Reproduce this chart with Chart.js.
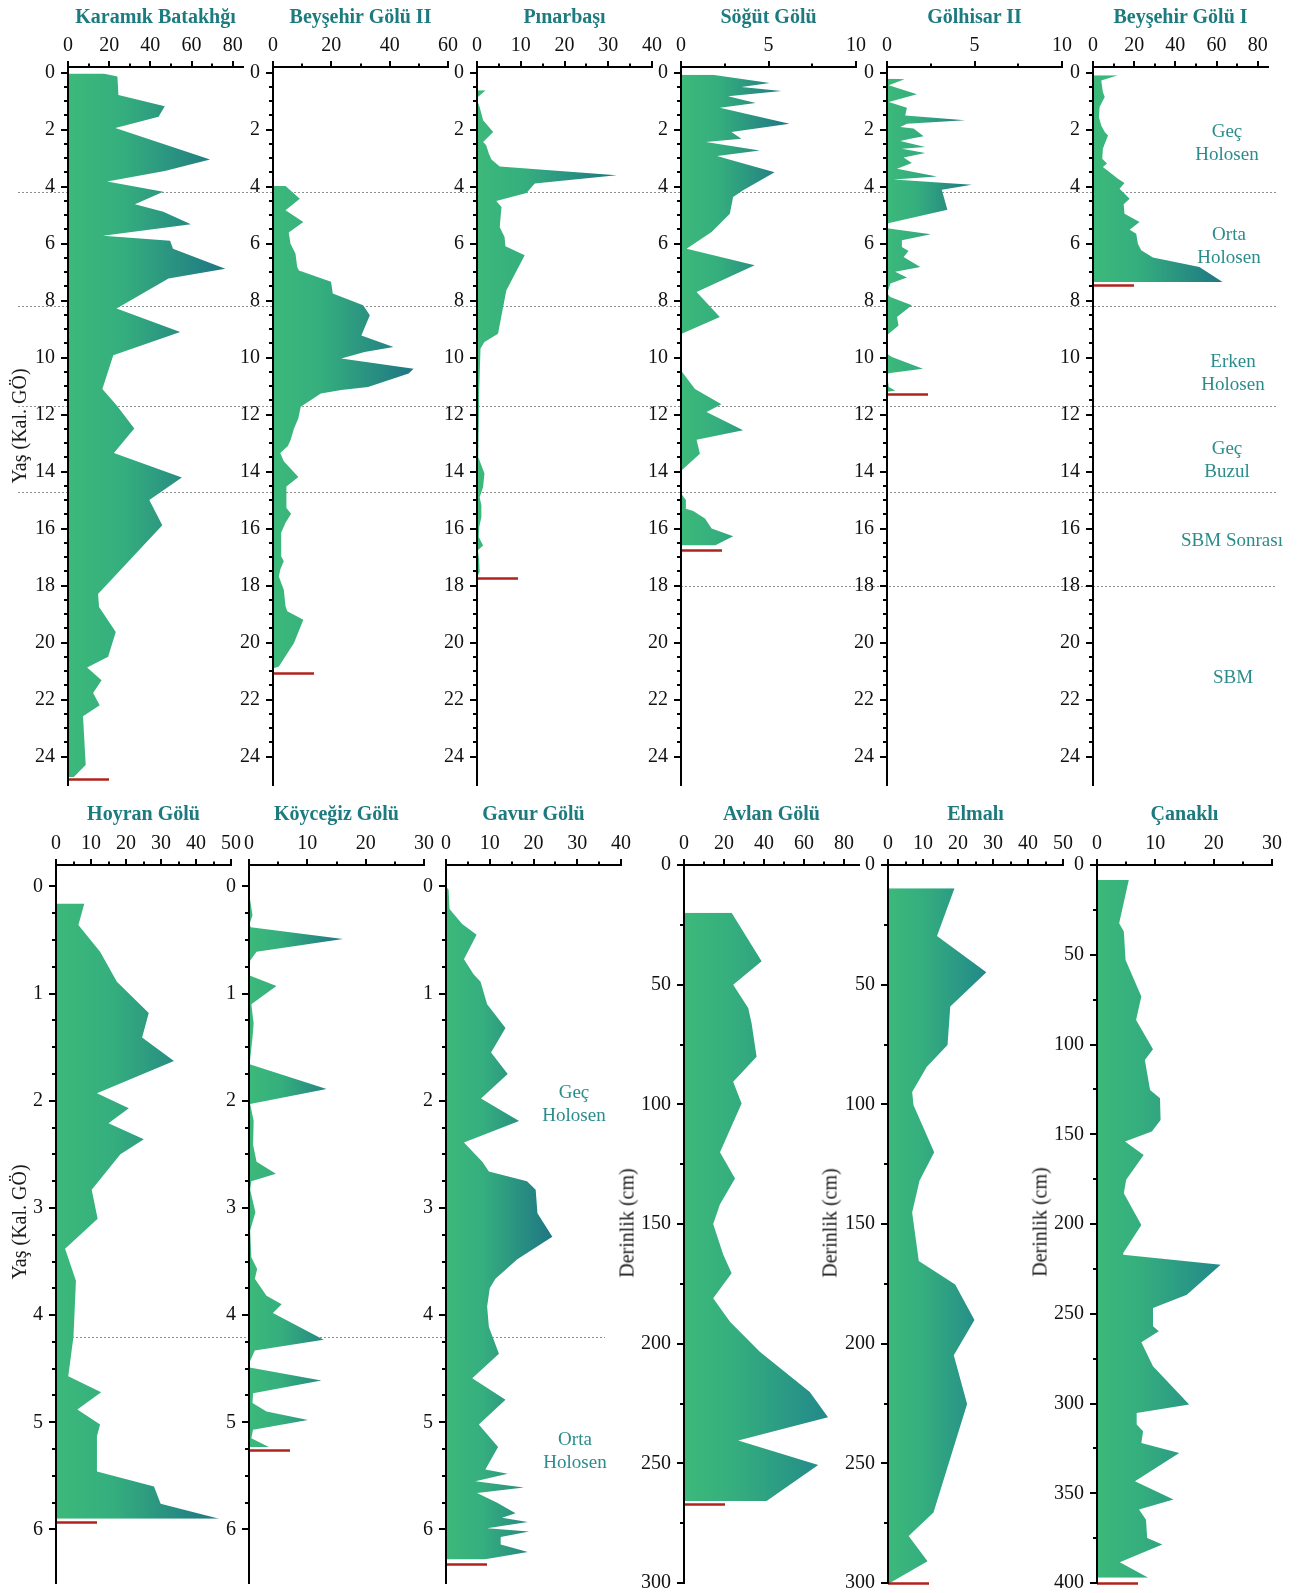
<!DOCTYPE html>
<html>
<head>
<meta charset="utf-8">
<script src="https://cdn.jsdelivr.net/npm/chart.js@4.4.1/dist/chart.umd.min.js"></script>
<style>
  html, body { margin: 0; padding: 0; background: #fff; overflow: hidden; }
  #page { position: relative; width: 1301px; height: 1593px; overflow: hidden; }
  canvas { position: absolute; }
  .txt { position: absolute; transform: translate(-50%, -50%); white-space: nowrap;
         font-family: 'Liberation Serif', 'Times New Roman', serif; }
  .title { font-weight: bold; font-size: 20px; color: #1d7b7f; }
  .period { font-size: 19px; color: #2b8c8c; text-align: center; line-height: 23px; }
  .ytitle { font-size: 20px; color: #1a1a1a; transform: translate(-50%, -50%) rotate(-90deg); }
</style>
</head>
<body>
<div id="page">
  <canvas id="guides" width="1301" height="1593" style="left:0;top:0;z-index:0"></canvas>
</div>
<script>
// ---- Site names ----
const siteNames = ['Karamık Batakhğı', 'Beyşehir Gölü II', 'Pınarbaşı', 'Söğüt Gölü', 'Gölhisar II', 'Beyşehir Gölü I',
                   'Hoyran Gölü', 'Köyceğiz Gölü', 'Gavur Gölü', 'Avlan Gölü', 'Elmalı', 'Çanaklı'];

// ---- Records: age (ka cal BP) or depth (cm) and percentage ----
const karamikAge = [0.03, 0.13, 0.78, 1.18, 1.55, 1.94, 3.05, 3.45, 3.82, 4.18, 4.62, 4.88, 5.32, 5.72, 5.9, 6.18, 6.88, 7.22, 8.28, 9.1, 9.92, 11.1, 11.67, 12.49, 13.35, 14.21, 15.0, 15.88, 18.3, 18.75, 19.63, 20.5, 20.88, 21.32, 21.77, 22.2, 22.59, 24.3, 24.72];
const karamikVal = [17, 24, 24.5, 47, 44, 23, 69, 47, 19, 46.3, 32.5, 46.3, 59.7, 17, 49.6, 51, 76.4, 48.8, 23.6, 54.5, 22, 16.7, 23.6, 32.2, 22.3, 55.3, 39.5, 45.8, 14.6, 15.1, 23.2, 19.5, 9.3, 16.3, 12.2, 15.4, 7.3, 8.6, 2.8];

const beysehir2Age = [3.98, 4.42, 4.83, 5.24, 5.61, 6.0, 6.35, 6.82, 6.94, 7.34, 7.75, 8.16, 8.51, 9.22, 9.63, 9.8, 10.03, 10.39, 10.56, 11.03, 11.14, 11.26, 11.61, 11.72, 12.13, 12.49, 12.9, 13.1, 13.35, 13.64, 14.19, 14.52, 15.28, 15.48, 15.8, 16.15, 16.97, 17.15, 17.44, 17.68, 18.15, 18.73, 18.9, 19.2, 20.02, 20.84, 20.9];
const beysehir2Val = [4.3, 9.2, 4.3, 10.4, 5.4, 6.0, 7.7, 8.3, 8.9, 19.9, 20.5, 30.9, 33.2, 30.3, 41.3, 31.4, 23.4, 48.2, 46.5, 32.6, 23.4, 16.4, 11.2, 9.5, 8.7, 7.2, 6.0, 5.1, 2.5, 3.7, 8.7, 4.6, 4.6, 6.2, 4.3, 2.8, 2.8, 3.7, 2.5, 2.0, 3.7, 4.3, 4.9, 10.4, 7.2, 2.0, 0.2];

const pinarbasiAge = [0.62, 0.85, 0.97, 1.2, 1.67, 2.08, 2.43, 2.55, 2.84, 3.05, 3.29, 3.6, 3.89, 4.22, 4.5, 4.71, 5.06, 5.42, 5.77, 6.09, 6.41, 7.64, 9.16, 9.45, 9.68, 11.15, 13.5, 13.78, 14.07, 14.54, 14.9, 15.18, 15.59, 15.95, 16.3, 16.59, 16.76, 17.11, 17.52, 17.64];
const pinarbasiVal = [2.0, 0.2, 0, 0.6, 1.4, 3.7, 1.4, 2.1, 2.7, 3.3, 5.2, 31.9, 13.2, 11.3, 4.4, 5.6, 5.4, 5.2, 6.3, 6.5, 10.9, 6.7, 4.8, 1.7, 0.8, 0.5, 0.3, 1.0, 1.7, 1.4, 0.6, 1.0, 1.0, 0.5, 0.4, 1.4, 0.2, 0.5, 0.6, 0.2];

const sogutAge = [0.07, 0.36, 0.5, 0.64, 0.83, 1.06, 1.23, 1.79, 2.08, 2.32, 2.43, 2.73, 2.92, 3.02, 3.49, 4.13, 4.36, 4.95, 5.59, 5.94, 6.18, 6.76, 7.7, 8.57, 9.16, 10.45, 11.1, 11.64, 11.91, 12.55, 12.88, 13.37, 13.95, 14.77, 15.0, 15.3, 15.38, 15.65, 16.0, 16.27, 16.59];
const sogutVal = [1.8, 5.07, 3.45, 5.74, 2.69, 4.27, 2.22, 6.2, 2.88, 3.45, 1.42, 4.5, 2.07, 2.6, 5.35, 3.55, 2.98, 2.79, 1.75, 0.89, 0.32, 4.21, 0.89, 2.22, 0.04, 0, 0.8, 2.31, 1.46, 3.55, 0.89, 1.08, 0.04, 0, 0.28, 0.28, 0.7, 1.37, 1.75, 2.98, 1.94];

const golhisarAge = [0.21, 0.23, 0.44, 0.76, 1.03, 1.23, 1.5, 1.67, 1.79, 1.91, 1.96, 2.23, 2.32, 2.4, 2.61, 2.67, 2.82, 2.98, 3.17, 3.37, 3.64, 3.75, 3.93, 4.11, 4.81, 5.27, 5.3, 5.45, 5.47, 5.67, 5.88, 6.12, 6.26, 6.47, 6.82, 6.99, 7.19, 7.4, 7.58, 7.75, 7.87, 8.16, 8.57, 8.87, 9.16, 9.2, 9.86, 9.98, 10.39, 10.54, 10.57, 11.03, 11.15, 11.2];
const golhisarVal = [0.3, 1.0, 0.1, 1.71, 0.1, 1.14, 1.04, 4.46, 1.14, 0.76, 1.52, 2.09, 1.33, 0.76, 2.18, 0.85, 2.18, 0.95, 1.42, 0.57, 2.85, 0.38, 4.84, 3.13, 3.45, 0.19, 0, 0, 0.1, 2.5, 0.85, 0.85, 1.23, 0.95, 1.9, 0.47, 1.14, 0.19, 0.1, 0, 0.19, 1.42, 0.57, 0.66, 0.1, 0, 0, 0.28, 2.05, 0.19, 0, 0.1, 0.47, 0.1];

const beysehir1Age = [0.09, 0.27, 0.68, 0.85, 1.2, 1.56, 1.85, 2.08, 2.2, 2.49, 2.67, 3.02, 3.19, 3.31, 3.49, 3.72, 3.87, 4.07, 4.42, 4.62, 4.95, 5.24, 5.51, 5.65, 6.0, 6.23, 6.49, 6.82, 7.35];
const beysehir1Val = [12.1, 4.0, 4.8, 5.7, 3.2, 2.9, 4.0, 5.7, 7.3, 5.7, 4.8, 4.5, 6.8, 4.8, 8.1, 12.1, 15.3, 12.9, 17.8, 14.9, 15.3, 22.6, 17.8, 21.0, 21.8, 23.4, 29.1, 51.7, 63.0];

const hoyranAge = [0.16, 0.36, 0.61, 0.89, 1.18, 1.41, 1.63, 1.93, 2.07, 2.21, 2.36, 2.5, 2.83, 3.1, 3.38, 3.68, 4.2, 4.57, 4.72, 4.88, 5.02, 5.13, 5.46, 5.6, 5.76, 5.9];
const hoyranVal = [8.1, 6.4, 12.6, 17.4, 26.5, 24.6, 33.7, 11.7, 20.8, 15.0, 25.1, 18.4, 10.2, 11.9, 2.6, 5.7, 5.0, 3.5, 12.9, 6.1, 12.6, 11.7, 11.7, 28.0, 29.9, 46.6];

const koycegizAge = [0.02, 0.13, 0.27, 0.35, 0.38, 0.49, 0.61, 0.69, 0.83, 0.93, 1.1, 1.28, 1.41, 1.66, 1.89, 2.03, 2.19, 2.41, 2.57, 2.68, 2.75, 2.83, 3.04, 3.21, 3.46, 3.57, 3.66, 3.82, 3.9, 3.98, 4.23, 4.33, 4.44, 4.49, 4.61, 4.73, 4.82, 4.9, 4.98, 5.07, 5.15, 5.23];
const koycegizVal = [0, 0.2, 0.6, 0.1, 0.3, 16.1, 1.3, 0.2, 0.1, 4.7, 0.4, 0.8, 0.6, 0.1, 13.3, 0.2, 0.8, 0.7, 1.3, 4.6, 0.4, 0.2, 1.1, 0.2, 0.4, 1.4, 1.0, 3.0, 5.6, 4.1, 12.8, 1.0, 0.1, 0.1, 12.4, 0.7, 0.6, 3.0, 10.1, 0.7, 0.4, 3.4];

const gavurAge = [0, 0.03, 0.21, 0.35, 0.45, 0.68, 0.82, 0.89, 1.1, 1.32, 1.55, 1.75, 1.98, 2.19, 2.39, 2.57, 2.66, 2.75, 2.83, 3.05, 3.27, 3.48, 3.66, 3.75, 3.92, 4.11, 4.23, 4.36, 4.59, 4.79, 5.02, 5.23, 5.44, 5.48, 5.55, 5.61, 5.66, 5.75, 5.85, 5.89, 5.93, 5.99, 6.02, 6.07, 6.14, 6.21, 6.28];
const gavurVal = [0, 0.6, 0.8, 3.7, 7.0, 4.1, 6.3, 7.9, 9.4, 13.6, 10.3, 14.1, 8.0, 16.7, 4.1, 8.3, 9.8, 18.5, 20.5, 20.9, 24.3, 16.3, 11.3, 10.0, 9.4, 9.8, 10.9, 12.1, 6.0, 13.6, 7.5, 11.9, 9.0, 14.1, 6.7, 17.8, 7.1, 11.7, 15.9, 12.8, 18.7, 9.4, 19.0, 12.5, 12.5, 18.7, 8.6];

const avlanDepth = [19.9, 40.2, 50.0, 59.8, 66.1, 80.1, 90.6, 99.7, 112.3, 120, 131, 141.7, 150, 162.7, 170.6, 181, 190.8, 203.4, 220.2, 230.7, 240.5, 250.7, 265.7];
const avlanVal = [23.8, 38.8, 24.6, 32.1, 33.8, 36.3, 24.6, 28.8, 22.1, 18.0, 25.5, 18.0, 14.6, 19.6, 23.8, 14.6, 23.0, 37.9, 62.9, 72.0, 27.1, 67.1, 41.3];

const elmaliDepth = [9.7, 29.7, 44.8, 59.1, 75.2, 84.3, 94.8, 100.4, 120.0, 131.9, 145.2, 165.5, 175.3, 190.1, 204.8, 225.2, 270.5, 280.4, 290.9, 300];
const elmaliVal = [19.0, 14.0, 28.1, 17.8, 17.0, 11.1, 6.9, 7.3, 13.2, 9.0, 6.9, 8.8, 19.2, 24.7, 18.8, 22.6, 13.0, 5.9, 11.3, 0.5];

const canakliDepth = [8.4, 32.5, 37.1, 52.9, 73.3, 86.3, 102.6, 108.6, 125.3, 129.9, 142, 148.5, 154.1, 161.5, 175.4, 182.8, 200.5, 216.2, 217.2, 222.7, 239.4, 246.8, 257, 259.8, 265.9, 279.3, 300.6, 305.3, 311.7, 315.5, 322, 327.6, 343.3, 353.5, 359.1, 364.7, 374.9, 378.6, 388.4, 397.1];
const canakliVal = [5.45, 3.8, 4.6, 4.9, 7.6, 6.7, 9.6, 8.2, 9.1, 10.8, 10.9, 9.4, 4.8, 8.0, 5.0, 4.6, 7.6, 4.5, 4.5, 21.2, 15.4, 9.6, 9.6, 10.6, 7.6, 9.6, 15.8, 6.8, 6.8, 7.9, 7.6, 14.1, 6.5, 13.1, 7.2, 8.4, 8.6, 11.2, 3.9, 8.8];

// ---- Base of each record (red marker) ----
const recordBase = [24.8, 21.07, 17.72, 16.74, 11.26, 7.46, 5.93, 5.26, 6.32, 267, 300, 400];

// ---- Axis tick labels ----
const xLabels85 = [0, 20, 40, 60, 80];
const xLabels60 = [0, 20, 40, 60];
const xLabels40 = [0, 10, 20, 30, 40];
const xLabels10 = [0, 5, 10];
const xLabels50 = [0, 10, 20, 30, 40, 50];
const xLabels30 = [0, 10, 20, 30];
const ageLabels25 = [0, 2, 4, 6, 8, 10, 12, 14, 16, 18, 20, 22, 24];
const ageLabels6 = [0, 1, 2, 3, 4, 5, 6];
const depthLabels300 = [0, 50, 100, 150, 200, 250, 300];
const depthLabels400 = [0, 50, 100, 150, 200, 250, 300, 350, 400];

// ---- Chronozones ----
const zoneBoundsTop = [4.2, 8.2, 11.7, 14.7, 18.0];
const zoneBoundsBottom = [4.2];

// ---------------------------------------------------------------
const FONT = "'Liberation Serif', 'Times New Roman', serif";
const page = document.getElementById('page');
const PLOT_W = 175, Y_W = 60, X_H = 40, PAD_R = 20, PAD_B = 20;

function ticksBetween(labels, step) {
  const out = [];
  const lo = labels[0], hi = labels[labels.length - 1];
  for (let v = lo; v <= hi + 1e-9; v += step) out.push(Math.round(v * 1000) / 1000);
  return out;
}

const rowTop = { top: 67, bottom: 785 };
const rowBot = { top: 865, bottom: 1583 };

const ageTop = { min: -0.2, max: 25, labels: ageLabels25, step: 0.5 };
const ageBot = { min: -0.2, max: 6.5, labels: ageLabels6, step: 0.25 };
const dep300 = { min: 0, max: 300, labels: depthLabels300, step: 25 };
const dep400 = { min: 0, max: 400, labels: depthLabels400, step: 25 };

const DARK = '#1e7684', MID = '#22898a';

const panels = [
  { ys: karamikAge, xs: karamikVal, row: rowTop, left: 68, xMax: 85, xLab: xLabels85, xStep: 10, yAx: ageTop, end: DARK },
  { ys: beysehir2Age, xs: beysehir2Val, row: rowTop, left: 273, xMax: 60, xLab: xLabels60, xStep: 10, yAx: ageTop, end: DARK },
  { ys: pinarbasiAge, xs: pinarbasiVal, row: rowTop, left: 477, xMax: 40, xLab: xLabels40, xStep: 5, yAx: ageTop, end: DARK },
  { ys: sogutAge, xs: sogutVal, row: rowTop, left: 681, xMax: 10, xLab: xLabels10, xStep: 2.5, yAx: ageTop, end: DARK },
  { ys: golhisarAge, xs: golhisarVal, row: rowTop, left: 887, xMax: 10, xLab: xLabels10, xStep: 2.5, yAx: ageTop, end: DARK },
  { ys: beysehir1Age, xs: beysehir1Val, row: rowTop, left: 1093, xMax: 85, xLab: xLabels85, xStep: 10, yAx: ageTop, end: DARK },
  { ys: hoyranAge, xs: hoyranVal, row: rowBot, left: 56, xMax: 50, xLab: xLabels50, xStep: 5, yAx: ageBot, end: DARK },
  { ys: koycegizAge, xs: koycegizVal, row: rowBot, left: 249, xMax: 30, xLab: xLabels30, xStep: 5, yAx: ageBot, end: DARK },
  { ys: gavurAge, xs: gavurVal, row: rowBot, left: 446, xMax: 40, xLab: xLabels40, xStep: 5, yAx: ageBot, end: DARK },
  { ys: avlanDepth, xs: avlanVal, row: rowBot, left: 684, xMax: 87.5, xLab: xLabels85, xStep: 10, yAx: dep300, end: MID },
  { ys: elmaliDepth, xs: elmaliVal, row: rowBot, left: 888, xMax: 50, xLab: xLabels50, xStep: 5, yAx: dep300, end: MID },
  { ys: canakliDepth, xs: canakliVal, row: rowBot, left: 1097, xMax: 30, xLab: xLabels30, xStep: 5, yAx: dep400, end: MID }
];

// Short ticks for minor values, long ones for labelled values
const tickMarks = {
  id: 'tickMarks',
  afterDraw(chart) {
    const { ctx } = chart;
    const xs = chart.scales.x, ys = chart.scales.y;
    ctx.save();
    ctx.strokeStyle = '#000';
    ctx.lineWidth = 2;
    ctx.beginPath();
    xs.ticks.forEach(t => {
      const px = Math.round(xs.getPixelForValue(t.value));
      const len = t.label ? 6 : 3.5;
      ctx.moveTo(px, xs.bottom);
      ctx.lineTo(px, xs.bottom - len);
    });
    ys.ticks.forEach(t => {
      const py = Math.round(ys.getPixelForValue(t.value));
      const len = t.label ? 7 : 4;
      ctx.moveTo(ys.right, py);
      ctx.lineTo(ys.right - len, py);
    });
    ctx.stroke();
    ctx.restore();
  }
};

function baseMarker(base) {
  return {
    id: 'baseMarker',
    afterDatasetsDraw(chart) {
      const { ctx } = chart;
      const xs = chart.scales.x, ys = chart.scales.y;
      const y = Math.round(ys.getPixelForValue(base)) + 0.5;
      const x0 = xs.getPixelForValue(0);
      ctx.save();
      ctx.strokeStyle = '#b0231d';
      ctx.lineWidth = 2.5;
      ctx.beginPath();
      ctx.moveTo(x0, y);
      ctx.lineTo(x0 + 41, y);
      ctx.stroke();
      ctx.restore();
    }
  };
}

// Dotted chronozone boundaries drawn on the layer underneath the panels
function zoneLines(bounds, spans, offsetTop) {
  return {
    id: 'zoneLines',
    afterDraw(chart) {
      const g = document.getElementById('guides').getContext('2d');
      const ys = chart.scales.y;
      g.save();
      g.strokeStyle = '#8e8e8e';
      g.lineWidth = 1;
      g.setLineDash([2, 2]);
      bounds.forEach((b, i) => {
        const y = Math.round(offsetTop + ys.getPixelForValue(b)) + 0.5;
        g.beginPath();
        g.moveTo(spans[i][0], y);
        g.lineTo(spans[i][1], y);
        g.stroke();
      });
      g.restore();
    }
  };
}

function fillGradient(maxVal, endColor) {
  return (ctx) => {
    const chart = ctx.chart;
    const xs = chart.scales && chart.scales.x;
    if (!chart.chartArea || !xs) return '#3bb87a';
    const x0 = xs.getPixelForValue(0);
    const x1 = xs.getPixelForValue(maxVal);
    const g = chart.ctx.createLinearGradient(x0, 0, Math.max(x1, x0 + 1), 0);
    g.addColorStop(0, '#3cb97a');
    g.addColorStop(0.35, '#35ae7e');
    g.addColorStop(1, endColor);
    return g;
  };
}

panels.forEach((p, idx) => {
  const plotH = p.row.bottom - p.row.top;
  const W = Y_W + PLOT_W + PAD_R, H = X_H + plotH + PAD_B;
  const canvasTop = p.row.top - X_H, canvasLeft = p.left - Y_W;
  const cv = document.createElement('canvas');
  cv.width = W; cv.height = H;
  cv.style.left = canvasLeft + 'px';
  cv.style.top = canvasTop + 'px';
  cv.style.width = W + 'px';
  cv.style.height = H + 'px';
  cv.style.zIndex = 1;
  page.appendChild(cv);

  const lastLab = p.xLab[p.xLab.length - 1];
  const xTicks = ticksBetween([0, lastLab + (p.xMax - lastLab >= p.xStep ? p.xStep : 0)], p.xStep);
  const yTicks = ticksBetween(p.yAx.labels, p.yAx.step);
  const maxVal = Math.max(...p.xs);

  const extra = [tickMarks, baseMarker(recordBase[idx])];
  if (idx === 0) {
    extra.push(zoneLines(zoneBoundsTop,
      [[18, 1277], [18, 1277], [18, 1277], [18, 1277], [681, 1277]], canvasTop));
  }
  if (idx === 6) {
    extra.push(zoneLines(zoneBoundsBottom, [[56, 605]], canvasTop));
  }

  new Chart(cv, {
    type: 'line',
    data: {
      datasets: [{
        data: p.ys.map((a, i) => ({ x: p.xs[i], y: a })),
        borderWidth: 0,
        borderColor: 'rgba(0,0,0,0)',
        pointRadius: 0,
        tension: 0,
        fill: 'origin',
        backgroundColor: fillGradient(maxVal, p.end)
      }]
    },
    options: {
      indexAxis: 'y',
      responsive: false,
      animation: false,
      devicePixelRatio: 1,
      events: [],
      layout: { padding: { left: 0, top: 0, right: PAD_R, bottom: PAD_B } },
      plugins: { legend: { display: false }, tooltip: { enabled: false }, title: { display: false } },
      scales: {
        x: {
          type: 'linear', position: 'top', min: 0, max: p.xMax,
          afterBuildTicks: (s) => { s.ticks = xTicks.map(v => ({ value: v })); },
          afterFit: (s) => { s.height = X_H; },
          ticks: {
            autoSkip: false, maxRotation: 0, minRotation: 0, padding: 3,
            color: '#111', font: { family: FONT, size: 20 },
            callback: (v) => p.xLab.includes(v) ? String(v) : ''
          },
          grid: { drawOnChartArea: false, drawTicks: true, tickLength: 6, tickColor: 'rgba(0,0,0,0)' },
          border: { display: true, color: '#000', width: 2, z: 1 }
        },
        y: {
          type: 'linear', position: 'left', reverse: true, min: p.yAx.min, max: p.yAx.max,
          afterBuildTicks: (s) => { s.ticks = yTicks.map(v => ({ value: v })); },
          afterFit: (s) => { s.width = Y_W; },
          ticks: {
            autoSkip: false, padding: 6,
            color: '#111', font: { family: FONT, size: 20 },
            callback: (v) => p.yAx.labels.includes(v) ? String(v) : ''
          },
          grid: { drawOnChartArea: false, drawTicks: true, tickLength: 7, tickColor: 'rgba(0,0,0,0)' },
          border: { display: true, color: '#000', width: 2, z: 1 }
        }
      }
    },
    plugins: extra
  });

  // panel title, centred over the plot
  const t = document.createElement('div');
  t.className = 'txt title';
  t.textContent = siteNames[idx];
  t.style.left = (p.left + PLOT_W / 2) + 'px';
  t.style.top = (p.row === rowTop ? 16 : 813) + 'px';
  page.appendChild(t);
});

// axis titles
function addText(cls, html, x, y) {
  const d = document.createElement('div');
  d.className = 'txt ' + cls;
  d.innerHTML = html;
  d.style.left = x + 'px';
  d.style.top = y + 'px';
  page.appendChild(d);
}
addText('ytitle', 'Yaş (Kal. GÖ)', 19, 426);
addText('ytitle', 'Yaş (Kal. GÖ)', 19, 1222);
addText('ytitle', 'Derinlik (cm)', 627, 1223);
addText('ytitle', 'Derinlik (cm)', 830, 1223);
addText('ytitle', 'Derinlik (cm)', 1040, 1222);

// chronozone names
addText('period', 'Geç<br>Holosen', 1227, 142);
addText('period', 'Orta<br>Holosen', 1229, 245);
addText('period', 'Erken<br>Holosen', 1233, 372);
addText('period', 'Geç<br>Buzul', 1227, 459);
addText('period', 'SBM Sonrası', 1232, 539);
addText('period', 'SBM', 1233, 676);
addText('period', 'Geç<br>Holosen', 574, 1103);
addText('period', 'Orta<br>Holosen', 575, 1450);
</script>
</body>
</html>
